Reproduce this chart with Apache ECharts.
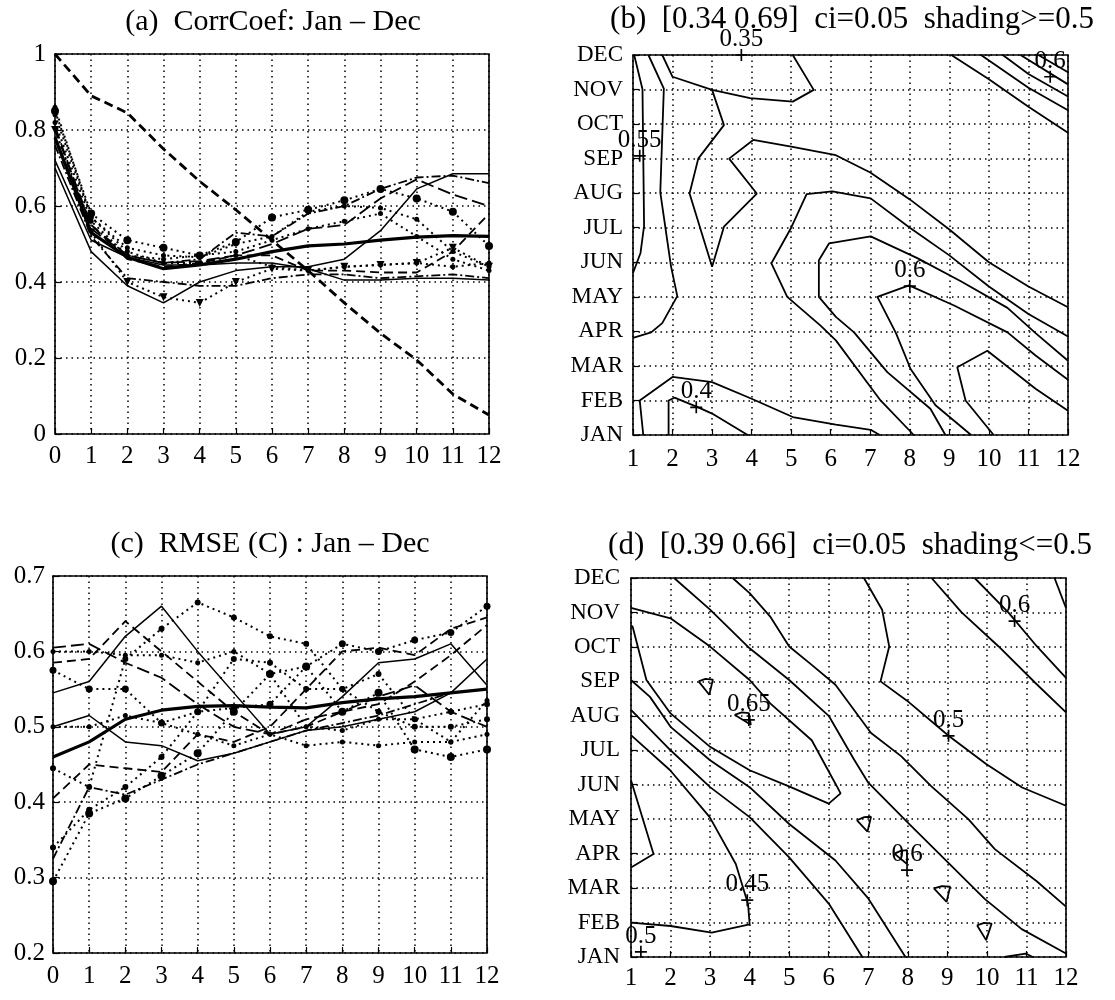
<!DOCTYPE html>
<html><head><meta charset="utf-8">
<script src="https://cdn.jsdelivr.net/npm/echarts/dist/echarts.min.js"></script>
<style>html,body{margin:0;padding:0;background:#fff}#c{width:1115px;height:1000px}</style>
</head><body><div id="c"></div>
<script>
// ---------- DATA ----------
const leadTicks = [0,1,2,3,4,5,6,7,8,9,10,11,12];
const monthNames = ['JAN','FEB','MAR','APR','MAY','JUN','JUL','AUG','SEP','OCT','NOV','DEC'];
const titleA = '(a)  CorrCoef: Jan \u2013 Dec';
const titleB = '(b)  [0.34 0.69]  ci=0.05  shading>=0.5';
const titleC = '(c)  RMSE (C) : Jan \u2013 Dec';
const titleD = '(d)  [0.39 0.66]  ci=0.05  shading<=0.5';

// (a) correlation vs lead
const corrPersist = [1.00,0.89,0.845,0.75,0.665,0.59,0.51,0.43,0.345,0.265,0.195,0.105,0.05];
const corrMean    = [0.78,0.53,0.465,0.435,0.445,0.46,0.48,0.495,0.50,0.51,0.518,0.522,0.52];
const corrS1      = [0.70,0.48,0.39,0.345,0.40,0.43,0.44,0.44,0.46,0.535,0.645,0.685,0.685];
const corrS2      = [0.72,0.51,0.465,0.445,0.445,0.45,0.45,0.435,0.405,0.405,0.41,0.41,0.405];
const corrB       = [0.85,0.58,0.51,0.49,0.47,0.505,0.57,0.59,0.615,0.645,0.62,0.585,0.495];
const corrC       = [0.86,0.57,0.49,0.47,0.465,0.50,0.52,0.585,0.60,0.595,0.565,0.48,0.44];
const corrD       = [0.78,0.55,0.46,0.44,0.45,0.47,0.47,0.43,0.43,0.425,0.425,0.48,0.58];
const corrE       = [0.80,0.53,0.40,0.36,0.345,0.40,0.435,0.43,0.44,0.445,0.45,0.49,0.44];
const corrF       = [0.76,0.52,0.41,0.40,0.39,0.39,0.41,0.42,0.42,0.41,0.415,0.42,0.41];
const corrG       = [0.82,0.56,0.47,0.46,0.47,0.48,0.51,0.54,0.56,0.58,0.52,0.46,0.43];
const corrH       = [0.80,0.55,0.47,0.45,0.46,0.53,0.52,0.58,0.60,0.645,0.675,0.68,0.66];
const corrA       = [0.81,0.54,0.47,0.45,0.455,0.47,0.50,0.54,0.55,0.62,0.67,0.63,0.60];
const corrI       = [0.84,0.57,0.48,0.45,0.45,0.47,0.44,0.43,0.44,0.445,0.45,0.44,0.45];

// (c) RMSE vs lead
const rmseMean = [0.46,0.48,0.51,0.522,0.527,0.528,0.526,0.525,0.532,0.537,0.54,0.545,0.55];
const rmseS1   = [0.545,0.56,0.62,0.66,0.60,0.545,0.49,0.50,0.54,0.585,0.59,0.61,0.555];
const rmseS2   = [0.50,0.515,0.48,0.475,0.455,0.465,0.48,0.495,0.50,0.51,0.52,0.545,0.59];
const rmseLD   = [0.605,0.61,0.585,0.565,0.53,0.50,0.49,0.51,0.52,0.54,0.555,0.52,0.50];
const rmseD    = [0.585,0.59,0.64,0.60,0.56,0.52,0.49,0.50,0.52,0.53,0.56,0.595,0.635];
const rmseB    = [0.575,0.55,0.55,0.505,0.52,0.525,0.53,0.58,0.61,0.60,0.615,0.625,0.66];
const rmseP    = [0.50,0.50,0.515,0.505,0.49,0.475,0.49,0.475,0.48,0.475,0.48,0.48,0.49];
const rmseT    = [0.445,0.42,0.59,0.63,0.665,0.645,0.62,0.61,0.55,0.57,0.51,0.52,0.53];
const rmseL    = [0.295,0.385,0.405,0.435,0.465,0.52,0.57,0.58,0.52,0.545,0.47,0.46,0.47];
const rmseDD   = [0.325,0.42,0.41,0.43,0.45,0.465,0.48,0.495,0.505,0.515,0.53,0.545,0.55];
const rmseE    = [0.405,0.45,0.445,0.44,0.49,0.48,0.50,0.55,0.60,0.605,0.595,0.63,0.645];
const rmseF    = [0.34,0.39,0.42,0.46,0.52,0.59,0.585,0.55,0.55,0.52,0.50,0.50,0.51];
const rmseG    = [0.60,0.60,0.595,0.595,0.585,0.60,0.57,0.50,0.495,0.51,0.51,0.48,0.535];

// (b) contour lines of correlation: [lag, target month (1=JAN..12=DEC)]
const bC1 = [[1.03,12],[1.24,11.01],[1.28,7.05],[1.19,6.27],[1.0,5.69]];
const bC2 = [[1.39,12],[1.78,11.03],[1.69,8.02],[1.96,5.89],[2.12,5.02],[1.74,4.24],[1.46,3.97],[1.0,3.81]];
const bTop = [[1.74,12],[2.0,11.37],[3.0,10.99],[3.96,10.75],[5.04,10.65],[5.57,10.99],[5.04,12]];
const bTongue = [[3.0,10.99],[3.3,9.97],[2.65,9.0],[2.43,7.99],[3.0,5.87],[3.3,7.03],[4.13,7.99],[3.43,9.0],[4.04,9.54],[5.0,9.35],[6.13,9.1],[7.0,8.6],[8.0,7.82],[9.0,6.95],[10.0,6.0],[11.0,5.3],[12,4.7]];
const bOuterU = [[8.1,1],[7.26,2.0],[6.13,3.74],[5.75,4.16],[4.9,5.0],[4.5,5.97],[5.0,7.0],[5.39,7.97],[6.04,8.05],[7.01,7.85],[8.0,7.0],[9.0,6.2],[10.0,5.3],[11.0,4.5],[12,3.85]];
const bSecondU = [[8.9,1],[8.52,1.76],[7.43,2.82],[6.59,3.97],[6.13,4.42],[5.7,5.0],[5.7,6.06],[5.96,6.55],[7.01,6.75],[8.19,6.12],[9.29,5.45],[10.47,4.68],[11.18,3.95],[12,3.15]];
const bSix = [[9.55,1],[8.65,1.86],[8.02,2.91],[7.65,3.95],[7.18,5.0],[7.98,5.33],[9.12,4.75],[10.47,3.97],[11.18,3.3],[12,2.6]];
const bHook = [[10.12,1],[9.41,2.0],[9.2,2.96],[9.96,3.44],[11.18,2.34],[12,1.7]];
const bFourOuter = [[1.26,1],[1.17,2.0],[2.0,2.68],[3.0,2.53],[4.0,2.05],[5.04,1.52],[6.13,1.3],[7.01,1.15],[7.24,1]];
const bFourInner = [[1.9,1],[1.9,2.0],[2.05,2.08],[2.65,1.8],[3.0,1.62],[3.9,1]];
const bTR1 = [[9.05,12],[10.0,11.3],[11.0,10.5],[12,9.75]];
const bTR2 = [[9.8,12],[11.0,11.05],[12,10.4]];
const bTR3 = [[10.35,12],[11.0,11.45],[12,10.8]];
const bTR4 = [[10.8,12],[12,11.15]];
const bTR5 = [[11.25,12],[12,11.5]];
const bLabels = [[3.74,12,'0.35'],[1.17,9.08,'0.55'],[2.6,1.8,'0.4'],[8.0,5.31,'0.6'],[11.55,11.37,'0.6']];

// (d) contour lines of RMSE
const dBand = [[1,11.13],[2.0,10.83],[3.0,10.01],[4.0,9.04],[4.52,8.36],[5.57,7.29],[6.17,6.03],[6.3,5.75],[6.0,5.45],[5.04,5.93],[4.0,6.42],[3.0,7.1],[2.0,8.07],[1.39,9.04],[1.04,10.59],[1,10.62]];
const dDiag1 = [[2.09,12],[3.0,11.08],[4.0,9.96],[5.0,9.04],[6.0,8.0],[6.64,6.73],[7.0,6.06],[8.0,4.9],[9.02,3.74],[9.95,2.68],[10.88,1.81],[12,1.1]];
const dDiag2 = [[3.57,12],[4.0,11.56],[4.52,10.88],[5.0,10.01],[5.57,9.48],[6.17,8.9],[7.07,7.5],[7.83,6.83],[8.59,5.96],[9.53,5.0],[10.2,4.13],[11.26,3.2],[12,2.46]];
const dHalf = [[6.89,12],[7.35,11.08],[7.53,10.01],[7.31,9.0],[7.98,8.44],[9.03,7.42],[9.98,6.6],[10.89,5.92],[12,5.39]];
const dM2 = [[8.6,12],[9.36,11.0],[10.29,10.02],[11.22,8.96],[12,8.1]];
const dM3 = [[9.69,12],[10.54,11.0],[11.26,10.02],[12,9.1]];
const dM4 = [[11.71,12],[12,11.13]];
const dLeft1 = [[1,9.04],[1.48,8.55],[2.0,7.68],[3.0,6.71],[4.0,5.93],[5.0,4.86],[6.17,3.8],[7.0,2.7],[7.94,1]];
const dLeft2 = [[1,8.17],[2.0,7.0],[3.0,5.93],[4.0,5.06],[5.0,3.89],[6.0,2.55],[6.85,1]];
const dFortyFive = [[1,7.44],[1.99,6.42],[2.99,5.06],[3.65,3.7],[3.96,2.54],[4.0,1.95],[3.04,1.71],[2.0,1.9],[1,2.0]];
const dLoop = [[1,6.13],[1.57,3.99],[1,3.6]];
const dBump = [[10.44,1],[10.98,1.1],[11.16,1]];
const dTri1 = [[2.71,9.0],[2.88,9.07],[3.07,9.05],[2.98,8.61],[2.71,9.0]];
const dTri2 = [[3.62,8.03],[3.8,8.1],[3.98,8.08],[4.03,7.74],[3.62,8.03]];
const dTri3 = [[6.71,4.97],[6.9,5.06],[7.07,5.07],[6.98,4.64],[6.71,4.97]];
const dTri4 = [[7.66,4.0],[7.82,4.08],[7.98,4.1],[7.98,3.7],[7.66,4.0]];
const dTri5 = [[8.66,2.99],[8.86,3.06],[9.07,3.04],[8.98,2.6],[8.66,2.99]];
const dTri6 = [[9.75,1.92],[9.93,1.99],[10.12,1.97],[9.98,1.49],[9.75,1.92]];
const dLabels = [[3.98,7.88,'0.65'],[9.03,7.42,'0.5'],[10.7,10.75,'0.6'],[7.98,3.52,'0.6'],[3.94,2.65,'0.45'],[1.25,1.15,'0.5']];

// ---------- STYLES ----------
const FONT = 'Liberation Serif, Times New Roman, serif';
const DOT = [2,4], DASHDOT = [9,3,2,3], LDASH = [13,5], DASH = [9,5];
const corrSeries = [
  [corrPersist,{type:DASH,width:2.8}],
  [corrMean,{type:'solid',width:3.2}],
  [corrS1,{type:'solid',width:1.5}],
  [corrS2,{type:'solid',width:1.5}],
  [corrB,{type:DOT,width:2,symbol:'circle',size:8}],
  [corrC,{type:DOT,width:2,symbol:'circle',size:5}],
  [corrD,{type:DASH,width:1.8}],
  [corrE,{type:DOT,width:2,symbol:'triangle',size:8,rot:180}],
  [corrF,{type:DASHDOT,width:1.8}],
  [corrG,{type:DOT,width:2,symbol:'circle',size:5}],
  [corrH,{type:DASHDOT,width:1.8}],
  [corrA,{type:LDASH,width:1.8}],
  [corrI,{type:DOT,width:2,symbol:'circle',size:5}]
];
const rmseSeries = [
  [rmseMean,{type:'solid',width:3.2}],
  [rmseS1,{type:'solid',width:1.5}],
  [rmseS2,{type:'solid',width:1.5}],
  [rmseLD,{type:LDASH,width:1.8}],
  [rmseD,{type:DASH,width:1.8}],
  [rmseB,{type:DOT,width:2,symbol:'circle',size:7}],
  [rmseP,{type:DOT,width:2,symbol:'circle',size:5}],
  [rmseT,{type:DOT,width:2,symbol:'circle',size:6}],
  [rmseL,{type:DOT,width:2,symbol:'circle',size:8}],
  [rmseDD,{type:DASHDOT,width:1.8}],
  [rmseE,{type:DASH,width:1.8}],
  [rmseF,{type:DOT,width:2,symbol:'circle',size:6}],
  [rmseG,{type:DOT,width:2,symbol:'circle',size:5}]
];
const contoursB = [bC1,bC2,bTop,bTongue,bOuterU,bSecondU,bSix,bHook,bFourOuter,bFourInner,bTR1,bTR2,bTR3,bTR4,bTR5];
const contoursD = [dBand,dDiag1,dDiag2,dHalf,dM2,dM3,dM4,dLeft1,dLeft2,dFortyFive,dLoop,dBump,dTri1,dTri2,dTri3,dTri4,dTri5,dTri6];

// ---------- CHART ----------
const grids = [
  {left:55,top:54,width:434,height:380},
  {left:633,top:55,width:435,height:380},
  {left:53,top:576,width:434,height:377},
  {left:631,top:578,width:435,height:379}
].map(g=>Object.assign({show:true,borderColor:'#000',borderWidth:1.6,backgroundColor:'transparent',containLabel:false,outerBoundsMode:'none'},g));

const splitDot = {show:true,lineStyle:{color:'#000',width:1.5,type:[1.5,4]}};
function axis(gi,min,max,interval,fmt,margin){
  return {type:'value',gridIndex:gi,min,max,interval,
    axisLine:{show:false},
    axisTick:{show:true,inside:true,length:6,lineStyle:{color:'#000',width:1.2}},
    splitLine:splitDot,
    axisLabel:{color:'#000',fontFamily:FONT,fontSize:25,margin,formatter:fmt}};
}
const intFmt = v=>String(v);
const monFmt = v=>monthNames[Math.round(v)-1];
const xAxes = [
  axis(0,0,12,1,intFmt,10),
  axis(1,1,12,1,intFmt,12),
  axis(2,0,12,1,intFmt,11),
  axis(3,1,12,1,intFmt,9)
];
const yAxes = [
  axis(0,0,1,0.2,v=>String(+v.toFixed(1)),9),
  axis(1,1,12,1,monFmt,10),
  axis(2,0.2,0.7,0.1,v=>v.toFixed(1),8),
  axis(3,1,12,1,monFmt,11)
];
yAxes[1].axisLabel.fontSize = 23; yAxes[3].axisLabel.fontSize = 23;

const series = [];
function addLines(gi,list){
  list.forEach(([vals,st])=>{
    series.push({type:'line',xAxisIndex:gi,yAxisIndex:gi,
      data:leadTicks.map((x,i)=>[x,vals[i]]),
      showSymbol:!!st.symbol,symbol:st.symbol||'none',symbolSize:st.size||0,symbolRotate:st.rot||0,
      lineStyle:{color:'#000',width:st.width,type:st.type},
      itemStyle:{color:'#000',borderWidth:0,opacity:1},
      silent:true,animation:false,z:3});
  });
}
addLines(0,corrSeries);
addLines(2,rmseSeries);
function addContours(gi,list){
  list.forEach(c=>{
    series.push({type:'line',xAxisIndex:gi,yAxisIndex:gi,data:c,showSymbol:false,symbol:'none',
      lineStyle:{color:'#000',width:1.8},silent:true,animation:false,z:3});
  });
}
addContours(1,contoursB);
addContours(3,contoursD);
const plusPath = 'path://M4.3,0H5.7V4.3H10V5.7H5.7V10H4.3V5.7H0V4.3H4.3Z';
function addLabels(gi,list){
  series.push({type:'scatter',xAxisIndex:gi,yAxisIndex:gi,
    data:list.map(l=>({value:[l[0],l[1]],name:l[2]})),
    symbol:plusPath,symbolSize:12,itemStyle:{color:'#000',opacity:1},
    label:{show:true,position:'top',distance:-3,formatter:'{b}',color:'#000',opacity:1,
      textBorderWidth:0,fontFamily:FONT,fontSize:25},
    silent:true,animation:false,z:5});
}
addLabels(1,bLabels);
addLabels(3,dLabels);

const titleStyle = (t,s)=>({text:t,fill:'#000',font:s+'px '+FONT,textAlign:'center',textVerticalAlign:'middle'});
const option = {
  backgroundColor:'#fff',
  animation:false,
  grid:grids, xAxis:xAxes, yAxis:yAxes, series,
  graphic:[
    {type:'text',x:273,y:22,style:titleStyle(titleA,30)},
    {type:'text',x:852,y:20,style:titleStyle(titleB,31)},
    {type:'text',x:270,y:544,style:titleStyle(titleC,30)},
    {type:'text',x:850,y:546,style:titleStyle(titleD,31)}
  ]
};
const chart = echarts.init(document.getElementById('c'),null,{renderer:'canvas'});
chart.setOption(option);
</script>
</body></html>
